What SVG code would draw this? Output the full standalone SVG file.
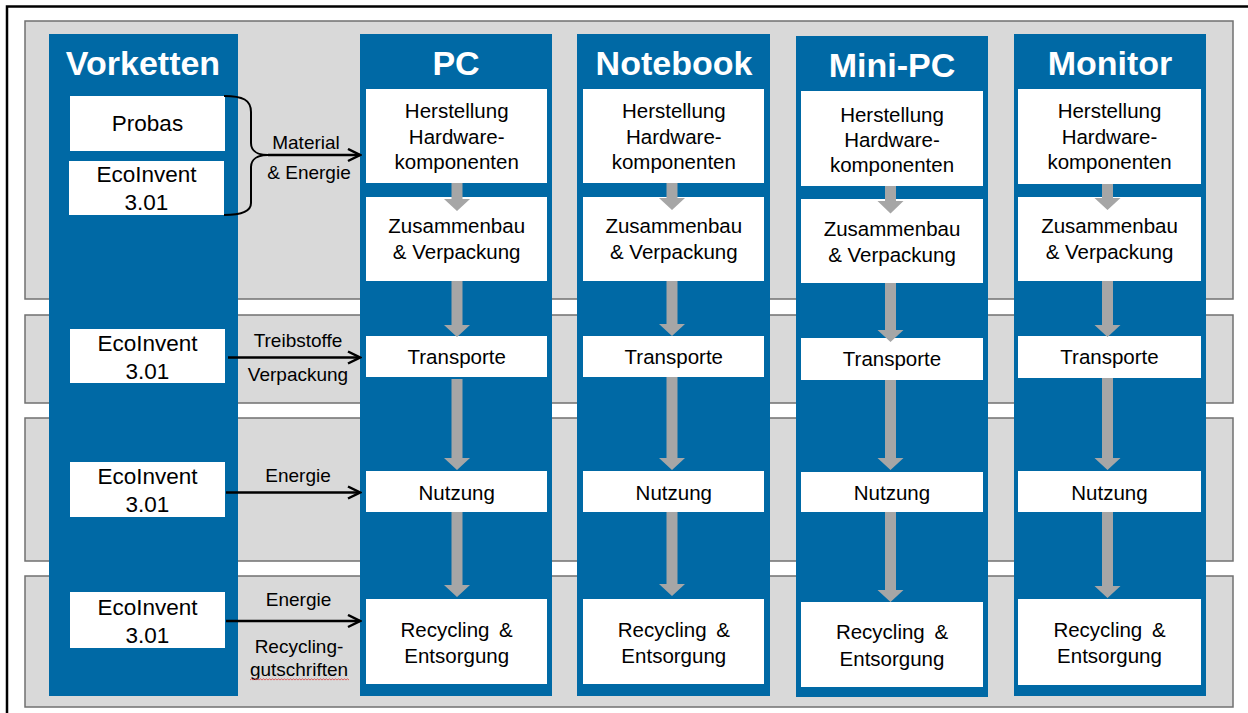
<svg xmlns="http://www.w3.org/2000/svg" width="1248" height="713" viewBox="0 0 1248 713">
<defs>
<style>
.band{fill:#d9d9d9;stroke:#707070;stroke-width:1.5}
.col{fill:#0069a5}
.box{fill:#ffffff}
.ga{fill:#a6a6a6}
text{font-family:"Liberation Sans",Arial,sans-serif;text-anchor:middle;fill:#000}
.title{font-size:34px;font-weight:bold;fill:#ffffff}
.src{font-size:22.5px}
.step{font-size:20.5px}
.lbl{font-size:19px}
.con{fill:none;stroke:#000;stroke-width:2.5}
</style>
<marker id="chev" markerUnits="userSpaceOnUse" viewBox="0 0 15 15" refX="13" refY="7.5" markerWidth="15" markerHeight="15" orient="auto">
<path d="M1,1.5 L13,7.5 L1,13.5" fill="none" stroke="#000" stroke-width="2.5"/>
</marker>
</defs>
<rect width="1248" height="713" fill="#ffffff"/>
<path d="M7,713 V6.5 H1248" fill="none" stroke="#000" stroke-width="2.5"/>
<g id="bands">
<rect class="band" x="25" y="21" width="1208" height="278"/>
<rect class="band" x="25" y="315" width="1208" height="88"/>
<rect class="band" x="25" y="418" width="1208" height="143"/>
<rect class="band" x="25" y="576" width="1208" height="131"/>
</g>
<g id="vorketten">
<rect class="col" x="49" y="34" width="189" height="662"/>
<text class="title" x="143" y="75">Vorketten</text>
<g id="src-probas"><rect class="box" x="70" y="96" width="155" height="55"/><text class="src" x="147.5" y="131">Probas</text></g>
<g id="src-eco1"><rect class="box" x="69" y="161" width="155" height="54"/><text class="src" x="146.5" y="181.5">EcoInvent</text><text class="src" x="146.5" y="210">3.01</text></g>
<g id="src-eco2"><rect class="box" x="70" y="329" width="155" height="54"/><text class="src" x="147.5" y="350.5">EcoInvent</text><text class="src" x="147.5" y="379">3.01</text></g>
<g id="src-eco3"><rect class="box" x="70" y="462" width="155" height="55"/><text class="src" x="147.5" y="484">EcoInvent</text><text class="src" x="147.5" y="512">3.01</text></g>
<g id="src-eco4"><rect class="box" x="70" y="592" width="155" height="56"/><text class="src" x="147.5" y="615">EcoInvent</text><text class="src" x="147.5" y="643">3.01</text></g>
</g>
<g id="col-pc">
<rect class="col" x="360" y="34" width="192" height="662"/>
<text class="title" x="456" y="75">PC</text>
<rect class="box" x="366" y="89" width="181" height="94"/>
<rect class="box" x="366" y="197" width="181" height="84"/>
<rect class="box" x="366" y="336" width="181" height="41"/>
<rect class="box" x="366" y="471" width="181" height="41"/>
<rect class="box" x="366" y="599" width="181" height="85"/>
<path class="ga" d="M451.5,183 H462.5 V199 H470 L457,211 L444,199 H451.5 Z M451.5,281 H462.5 V325 H470 L457,337 L444,325 H451.5 Z M451.5,379 H462.5 V458 H470 L457,470 L444,458 H451.5 Z M451.5,512 H462.5 V585 H470 L457,597 L444,585 H451.5 Z"/>
<text class="step" x="456.7" y="118.3">Herstellung</text><text class="step" x="456.7" y="144">Hardware-</text><text class="step" x="456.7" y="169.3">komponenten</text>
<text class="step" x="456.7" y="233.3">Zusammenbau</text><text class="step" x="456.7" y="259">&amp; Verpackung</text>
<text class="step" x="456.7" y="364">Transporte</text>
<text class="step" x="456.7" y="500">Nutzung</text>
<text class="step" x="456.7" y="637.3" word-spacing="4">Recycling &amp;</text><text class="step" x="456.7" y="663.3">Entsorgung</text>
</g>
<g id="col-notebook">
<rect class="col" x="577" y="34" width="193" height="662"/>
<text class="title" x="674" y="75">Notebook</text>
<rect class="box" x="583" y="89" width="181" height="94"/>
<rect class="box" x="583" y="197" width="181" height="84"/>
<rect class="box" x="583" y="336" width="181" height="41"/>
<rect class="box" x="583" y="471" width="181" height="41"/>
<rect class="box" x="583" y="599" width="181" height="85"/>
<path class="ga" d="M666.5,183 H677.5 V198 H685 L672,210 L659,198 H666.5 Z M666.5,281 H677.5 V324 H685 L672,336 L659,324 H666.5 Z M666.5,377 H677.5 V458 H685 L672,470 L659,458 H666.5 Z M666.5,512 H677.5 V584 H685 L672,596 L659,584 H666.5 Z"/>
<text class="step" x="673.8" y="118.3">Herstellung</text><text class="step" x="673.8" y="144">Hardware-</text><text class="step" x="673.8" y="169.3">komponenten</text>
<text class="step" x="673.8" y="233.3">Zusammenbau</text><text class="step" x="673.8" y="259">&amp; Verpackung</text>
<text class="step" x="673.8" y="364">Transporte</text>
<text class="step" x="673.8" y="500">Nutzung</text>
<text class="step" x="673.8" y="637.3" word-spacing="4">Recycling &amp;</text><text class="step" x="673.8" y="663.3">Entsorgung</text>
</g>
<g id="col-minipc">
<rect class="col" x="796" y="36" width="192" height="661"/>
<text class="title" x="892" y="76.7">Mini-PC</text>
<rect class="box" x="801" y="91" width="182" height="95"/>
<rect class="box" x="801" y="199" width="182" height="84"/>
<rect class="box" x="801" y="338" width="182" height="42"/>
<rect class="box" x="801" y="472" width="182" height="40"/>
<rect class="box" x="801" y="602" width="182" height="85"/>
<path class="ga" d="M885,186 H896 V201 H903.5 L890.5,213.5 L877.5,201 H885 Z M885,283 H896 V330 H903.5 L890.5,342 L877.5,330 H885 Z M885,380 H896 V458 H903.5 L890.5,470 L877.5,458 H885 Z M885,512 H896 V590 H903.5 L890.5,602 L877.5,590 H885 Z"/>
<text class="step" x="892" y="121.7">Herstellung</text><text class="step" x="892" y="146.7">Hardware-</text><text class="step" x="892" y="172.3">komponenten</text>
<text class="step" x="892" y="236">Zusammenbau</text><text class="step" x="892" y="261.7">&amp; Verpackung</text>
<text class="step" x="892" y="366">Transporte</text>
<text class="step" x="892" y="500">Nutzung</text>
<text class="step" x="892" y="639.3" word-spacing="4">Recycling &amp;</text><text class="step" x="892" y="666">Entsorgung</text>
</g>
<g id="col-monitor">
<rect class="col" x="1014" y="34" width="192" height="662"/>
<text class="title" x="1110" y="75">Monitor</text>
<rect class="box" x="1018" y="89" width="183" height="95"/>
<rect class="box" x="1018" y="197" width="183" height="84"/>
<rect class="box" x="1018" y="336" width="183" height="42"/>
<rect class="box" x="1018" y="471" width="183" height="41"/>
<rect class="box" x="1018" y="599" width="183" height="86"/>
<path class="ga" d="M1102,184 H1113 V198 H1120.5 L1107.5,210 L1094.5,198 H1102 Z M1102,281 H1113 V325 H1120.5 L1107.5,337 L1094.5,325 H1102 Z M1102,378 H1113 V458 H1120.5 L1107.5,470 L1094.5,458 H1102 Z M1102,512 H1113 V586 H1120.5 L1107.5,598 L1094.5,586 H1102 Z"/>
<text class="step" x="1109.5" y="118.3">Herstellung</text><text class="step" x="1109.5" y="144">Hardware-</text><text class="step" x="1109.5" y="169.3">komponenten</text>
<text class="step" x="1109.5" y="233.3">Zusammenbau</text><text class="step" x="1109.5" y="259">&amp; Verpackung</text>
<text class="step" x="1109.5" y="364">Transporte</text>
<text class="step" x="1109.5" y="500">Nutzung</text>
<text class="step" x="1109.5" y="637.3" word-spacing="4">Recycling &amp;</text><text class="step" x="1109.5" y="663.3">Entsorgung</text>
</g>
<g id="connectors">
<path d="M224,96 C243,96 251,100 251,112 V143 C251,151 258,155 268,155 C258,155 251,159 251,167 V203 C251,211 243,215 224,215" fill="none" stroke="#000" stroke-width="2"/>
<path class="con" d="M268,155 H360" marker-end="url(#chev)"/>
<path class="con" d="M228,357.5 H360" marker-end="url(#chev)"/>
<path class="con" d="M226,492.5 H360" marker-end="url(#chev)"/>
<path class="con" d="M226,621 H360" marker-end="url(#chev)"/>
</g>
<g id="labels">
<text class="lbl" x="306" y="149">Material</text>
<text class="lbl" x="309" y="179">&amp; Energie</text>
<text class="lbl" x="298" y="346.5">Treibstoffe</text>
<text class="lbl" x="298" y="381">Verpackung</text>
<text class="lbl" x="298" y="482">Energie</text>
<text class="lbl" x="298.5" y="606">Energie</text>
<text class="lbl" x="299" y="653">Recycling-</text>
<text class="lbl" x="299" y="676">gutschriften</text>
<path d="M250,680 l1.5,-1.2 l1.5,1.2 l1.5,-1.2 l1.5,1.2 l1.5,-1.2 l1.5,1.2 l1.5,-1.2 l1.5,1.2 l1.5,-1.2 l1.5,1.2 l1.5,-1.2 l1.5,1.2 l1.5,-1.2 l1.5,1.2 l1.5,-1.2 l1.5,1.2 l1.5,-1.2 l1.5,1.2 l1.5,-1.2 l1.5,1.2 l1.5,-1.2 l1.5,1.2 l1.5,-1.2 l1.5,1.2 l1.5,-1.2 l1.5,1.2 l1.5,-1.2 l1.5,1.2 l1.5,-1.2 l1.5,1.2 l1.5,-1.2 l1.5,1.2 l1.5,-1.2 l1.5,1.2 l1.5,-1.2 l1.5,1.2 l1.5,-1.2 l1.5,1.2 l1.5,-1.2 l1.5,1.2 l1.5,-1.2 l1.5,1.2 l1.5,-1.2 l1.5,1.2 l1.5,-1.2 l1.5,1.2 l1.5,-1.2 l1.5,1.2 l1.5,-1.2 l1.5,1.2 l1.5,-1.2 l1.5,1.2 l1.5,-1.2 l1.5,1.2 l1.5,-1.2 l1.5,1.2 l1.5,-1.2 l1.5,1.2 l1.5,-1.2 l1.5,1.2 l1.5,-1.2 l1.5,1.2 l1.5,-1.2 l1.5,1.2 l1.5,-1.2 l1.5,1.2" fill="none" stroke="#e04040" stroke-width="0.8"/>
</g>
</svg>
